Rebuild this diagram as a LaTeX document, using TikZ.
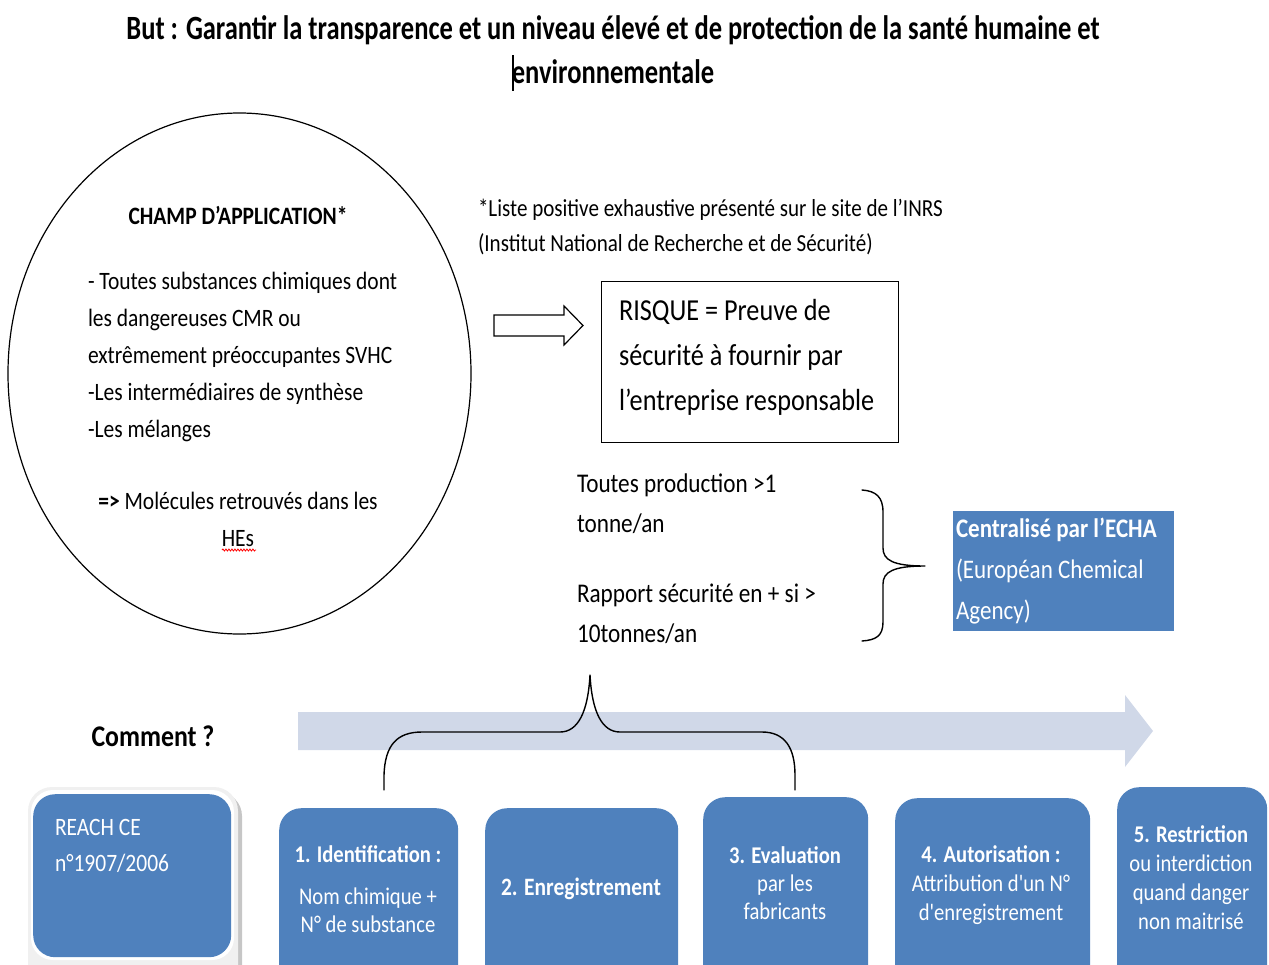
\documentclass[tikz,border=0pt]{standalone}
\usepackage{fontspec}
\setmainfont{Carlito}[FakeStretch=0.86, Ligatures=TeXOff]
\newfontfamily\headfont{Carlito}[FakeStretch=0.78]
\usetikzlibrary{shapes.geometric,decorations.pathmorphing}
\definecolor{boxblue}{HTML}{4F81BD}
\definecolor{flowgray}{HTML}{D0D8E8}
\newcommand\fsz[2]{\fontsize{#1}{#2}\selectfont}

\begin{document}
\begin{tikzpicture}[x=1pt,y=-1pt,
  txt/.style={inner sep=0pt, outer sep=0pt, align=left},
  stepbox/.style={fill=boxblue, rounded corners=22pt, inner sep=0pt, anchor=north west},
  boxtext/.style={text=white, align=center, inner sep=0pt},
  bracepath/.style={line width=1.4pt, line cap=round, line join=round}]
\useasboundingbox (0,0) rectangle (1269,964);
\clip (0,0) rectangle (1269,964);

% heading
\node[txt, align=center, anchor=north, font=\headfont\bfseries\fsz{34}{44}] (title) at (613,16)
  {But : Garantir la transparence et un niveau élevé et de protection de la santé humaine et\\environnementale};
\draw[line width=1.2pt] (513,55) -- (513,91);

% scope of the regulation
\node[draw, ellipse, line width=1.2pt, minimum width=463pt, minimum height=521pt, inner sep=0pt] (champ) at (239.5,373.5) {};
\node[txt, anchor=north, font=\bfseries\fsz{25}{30}] (champtitle) at (238,206) {CHAMP D’APPLICATION*};
\node[txt, anchor=north west, font=\fsz{25}{37}] (champlist) at (88,272)
  {- Toutes substances chimiques dont\\les dangereuses CMR ou\\extrêmement préoccupantes SVHC\\-Les intermédiaires de synthèse\\-Les mélanges};
\node[txt, align=center, anchor=north, font=\fsz{25}{37}] (champnote) at (238,492)
  {\textbf{=>} Molécules retrouvés dans les\\HEs};
\draw[red, line width=0.8pt, decorate, decoration={snake, amplitude=1pt, segment length=3pt}] (222,550) -- (256,550);

% footnote
\node[txt, anchor=north west, font=\fsz{24.5}{35}] (note) at (478,199)
  {*Liste positive exhaustive présenté sur le site de l’INRS\\(Institut National de Recherche et de Sécurité)};

% hollow arrow
\draw[line width=1.2pt, line join=miter] (494,315) -- (564,315) -- (564,306) -- (583,325.5) -- (564,345) -- (564,336) -- (494,336) -- cycle;

% risk box
\node[draw, line width=1.3pt, minimum width=297pt, minimum height=161pt, anchor=north west, inner sep=0pt] (risque) at (601,281) {};
\node[txt, anchor=north west, font=\fsz{30.5}{45}] (risquetext) at (619,299)
  {RISQUE = Preuve de\\sécurité à fournir par\\l’entreprise responsable};

% tonnage thresholds
\node[txt, anchor=north west, font=\fsz{27}{40}] (seuils) at (577,474)
  {Toutes production >1\\tonne/an\\[30pt]Rapport sécurité en + si >\\10tonnes/an};

% brace towards the agency
\coordinate (rb1) at (862,490);
\coordinate (rb2) at (862,641);
\coordinate (rbtip) at (925,566);
\draw[bracepath] (rb1) .. controls (876,491) and (883,497) .. (883,512) -- (883,548)
  .. controls (883,560) and (893,566) .. (rbtip)
  .. controls (893,566) and (883,572) .. (883,584) -- (883,622)
  .. controls (883,636) and (876,640) .. (rb2);

% agency
\node[fill=boxblue, minimum width=221pt, minimum height=120pt, anchor=north west, inner sep=0pt] (echa) at (953,511) {};
\node[txt, text=white, anchor=north west, font=\fsz{26.8}{41}] (echatext) at (956,518)
  {\textbf{Centralisé par l’ECHA}\\(Européan Chemical\\Agency)};

% process arrow
\fill[flowgray] (298,712) -- (1125,712) -- (1125,695) -- (1153,731) -- (1125,767) -- (1125,750) -- (298,750) -- cycle;
\node[txt, font=\bfseries\fsz{30}{32}] (comment) at (153,736) {Comment ?};

% steps
\fill[gray!45, rounded corners=24pt] (33,792) rectangle (242,990);
\fill[gray!12, rounded corners=24pt] (28,787) rectangle (238,990);
\fill[white, rounded corners=22pt] (31,790) rectangle (234,960);
\node[stepbox, minimum width=198pt, minimum height=163pt] (reach) at (33,794) {};
\node[txt, text=white, anchor=north west, font=\fsz{25}{36}] (reachtext) at (55,819) {REACH CE\\n°1907/2006};

\node[stepbox, minimum width=179pt, minimum height=200pt] (s1) at (279,808) {};
\node[stepbox, minimum width=193pt, minimum height=200pt] (s2) at (485,808) {};
\node[stepbox, minimum width=165pt, minimum height=200pt] (s3) at (703,797) {};
\node[stepbox, minimum width=195pt, minimum height=200pt] (s4) at (895,798) {};
\node[stepbox, minimum width=150pt, minimum height=200pt] (s5) at (1117,787) {};

\node[boxtext, font=\fsz{24}{28}] (s1text) at (368,889)
  {\textbf{1. Identification :}\\[14pt]Nom chimique +\\N° de substance};
\node[boxtext, font=\bfseries\fsz{25}{28}] (s2text) at (581,889) {2. Enregistrement};
\node[boxtext, font=\fsz{24}{28}] (s3text) at (785,883)
  {\textbf{3. Evaluation}\\par les\\fabricants};
\node[boxtext, font=\fsz{24}{29}] (s4text) at (991,885)
  {\textbf{4. Autorisation :}\\Attribution d'un N°\\d'enregistrement};
\node[boxtext, font=\fsz{24}{29}] (s5text) at (1191,878)
  {\textbf{5. Restriction}\\ou interdiction\\quand danger\\non maitrisé};

% brace gathering steps 1 to 3
\coordinate (lb1) at (384,790);
\coordinate (lb2) at (795,790);
\coordinate (lbtip) at (590,675);
\draw[bracepath] (lb1) -- (384,775) .. controls (385,745) and (397,732) .. (422,732) -- (560,732)
  .. controls (578,732) and (588,712) .. (lbtip)
  .. controls (592,712) and (602,732) .. (620,732) -- (762,732)
  .. controls (785,732) and (795,748) .. (795,775) -- (lb2);
\end{tikzpicture}
\end{document}
